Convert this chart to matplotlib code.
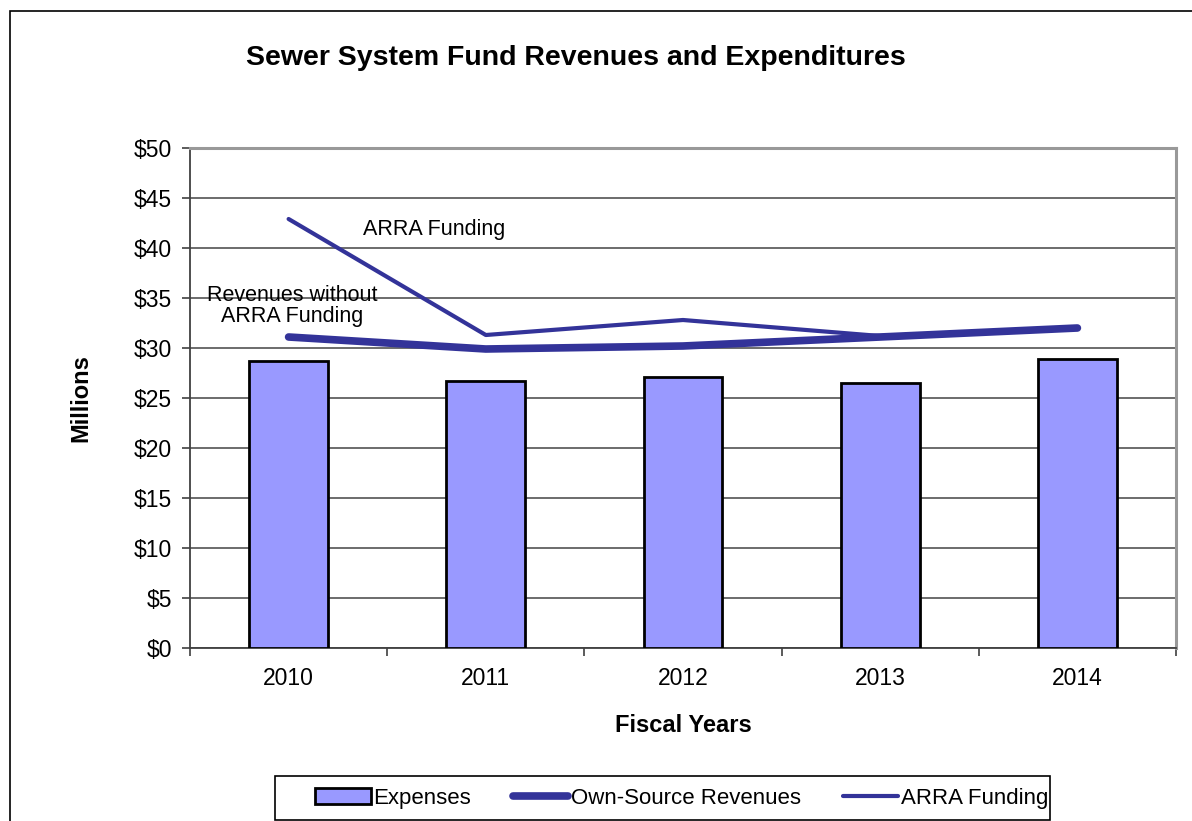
import matplotlib.pyplot as plt
from matplotlib.patches import Rectangle
from matplotlib.lines import Line2D

plt.rcParams['font.family'] = ['Liberation Sans', 'DejaVu Sans']

years = ['2010', '2011', '2012', '2013', '2014']
expenses = [28.7, 26.7, 27.1, 26.5, 28.9]
own_source = [31.1, 29.9, 30.2, 31.1, 32.0]
arra = [42.9, 31.3, 32.8, 31.2, 32.0]
y_ticks = [0, 5, 10, 15, 20, 25, 30, 35, 40, 45, 50]

navy = '#333399'
bar_blue = '#9999FF'

fig = plt.figure(figsize=(11.92, 8.21), dpi=100)
ax = fig.add_axes([190 / 1192, 1 - 648 / 821, 986 / 1192, 500 / 821])

x = list(range(len(years)))
ax.bar(x, expenses, width=0.4, color=bar_blue, edgecolor='black', linewidth=2, zorder=3)
ax.plot(x, own_source, color=navy, linewidth=5.5, solid_capstyle='round', zorder=4)
ax.plot(x, arra, color=navy, linewidth=3, solid_capstyle='round', zorder=4)

ax.set_xlim(-0.5, len(years) - 0.5)
ax.set_ylim(0, 50)
ax.set_yticks(y_ticks)
ax.set_yticklabels([f'${v}' for v in y_ticks])
ax.set_xticks(x)
ax.set_xticklabels(years)
ax.set_xticks([i - 0.5 for i in range(len(years) + 1)], minor=True)
ax.tick_params(axis='x', which='major', length=0, pad=14, labelsize=16.5)
ax.tick_params(axis='x', which='minor', length=6, width=1.2, color='#404040')
ax.tick_params(axis='y', length=6, width=1.2, color='#404040', labelsize=16.5, pad=7)
ax.yaxis.grid(True, color='#606060', linewidth=1.3, zorder=0)

for side in ['left', 'bottom']:
    ax.spines[side].set_color('#404040')
    ax.spines[side].set_linewidth(1.3)
for side in ['top', 'right']:
    ax.spines[side].set_color('#999999')
    ax.spines[side].set_linewidth(2.2)

ax.set_ylabel('Millions', fontsize=17, fontweight='bold', labelpad=30)
ax.set_xlabel('Fiscal Years', fontsize=17, fontweight='bold', labelpad=17)

ax.text(0.74, 41.8, 'ARRA Funding', ha='center', va='center', fontsize=15.5)
ax.text(0.02, 34.2, 'Revenues without\nARRA Funding', ha='center', va='center', fontsize=15.5,
        linespacing=1.0)

fig.text(576 / 1192, 1 - 58 / 821, 'Sewer System Fund Revenues and Expenditures',
         ha='center', va='center', fontsize=20.5, fontweight='bold')

# outer frame around the whole chart
fig.patches.append(Rectangle((10 / 1192, -0.1), 1.2, 1 - 11 / 821 + 0.1,
                             transform=fig.transFigure, fill=False,
                             edgecolor='black', linewidth=1.2))

# legend box drawn separately so the entries can sit off-centre inside it
fig.patches.append(Rectangle((275 / 1192, 1 - 820 / 821), 775 / 1192, 44 / 821,
                             transform=fig.transFigure, fill=False,
                             edgecolor='black', linewidth=1.2))

handles = [
    Rectangle((0, 0), 1, 1, facecolor=bar_blue, edgecolor='black', linewidth=2),
    Line2D([], [], color=navy, linewidth=5.5, solid_capstyle='round'),
    Line2D([], [], color=navy, linewidth=3, solid_capstyle='round'),
]
fig.legend(handles, ['Expenses', 'Own-Source Revenues', 'ARRA Funding'],
           loc='center left', bbox_to_anchor=(315 / 1192, 1 - 798 / 821),
           ncol=3, frameon=False, fontsize=16,
           handlelength=2.5, handletextpad=0.1, columnspacing=1.9,
           borderpad=0, borderaxespad=0)

fig.savefig('out.png', dpi=100)
